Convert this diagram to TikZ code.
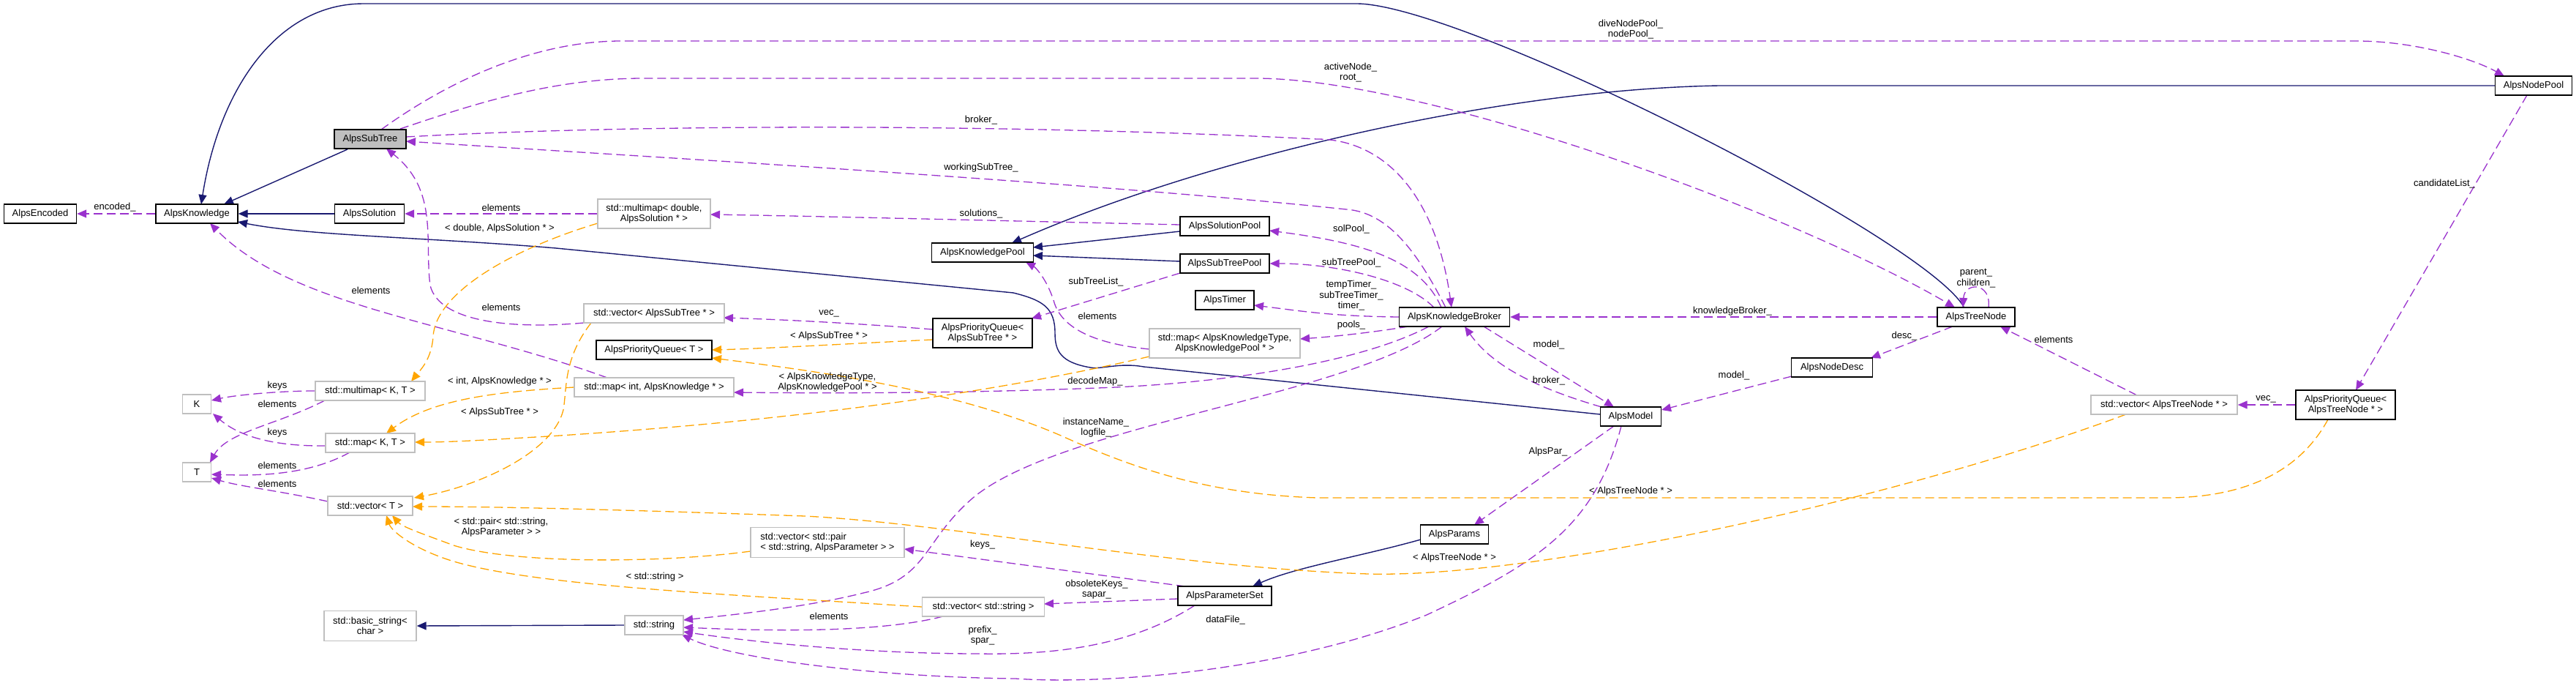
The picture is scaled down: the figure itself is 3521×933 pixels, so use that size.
\documentclass[tikz,border=0pt]{standalone}
\usepackage{fontspec}
\setmainfont{Liberation Sans}
\usetikzlibrary{arrows.meta,calc}
\definecolor{edgeP}{HTML}{9A32CD}
\definecolor{edgeO}{HTML}{FFA500}
\definecolor{edgeB}{HTML}{191970}
\definecolor{boxG}{HTML}{BFBFBF}
\newcommand{\dgfont}{\fontsize{13}{14.5}\selectfont}
\pgfdeclarelayer{bg}
\pgfsetlayers{bg,main}
\tikzset{
  cls/.style={draw=black, fill=white, line width=1.4pt, inner sep=1pt, font=\dgfont, align=center},
  ext/.style={cls, draw=boxG},
  lbl/.style={font=\dgfont, inner sep=0pt, align=center},
  inh/.style={draw=edgeB, line width=1.4pt, -{Triangle[length=13pt,width=11pt]}},
  use/.style={draw=edgeP, line width=1.3pt, dash pattern=on 12pt off 6pt, -{Triangle[length=13pt,width=11pt]}},
  tpl/.style={use, draw=edgeO},
}
\begin{document}
\begin{tikzpicture}[x=1pt,y=-1pt]
\useasboundingbox (0,0) rectangle (3521,933);
% ---------- nodes ----------
\node[cls, minimum width=99pt, minimum height=26pt] (enc) at (55,292) {AlpsEncoded};
\node[cls, minimum width=112pt, minimum height=26pt] (know) at (269,292) {AlpsKnowledge};
\node[cls, fill=boxG, minimum width=98pt, minimum height=26pt] (sub) at (506,190) {AlpsSubTree};
\node[cls, minimum width=95pt, minimum height=26pt] (sol) at (505,292) {AlpsSolution};
\node[ext, minimum width=154pt, minimum height=40pt] (mmds) at (894,292) {std::multimap< double,\\AlpsSolution * >};
\node[ext, minimum width=192pt, minimum height=26pt] (vst) at (894,428) {std::vector< AlpsSubTree * >};
\node[cls, minimum width=158pt, minimum height=26pt] (pqt) at (894,478) {AlpsPriorityQueue< T >};
\node[ext, minimum width=150pt, minimum height=26pt] (mmkt) at (506,534) {std::multimap< K, T >};
\node[ext, minimum width=218pt, minimum height=26pt] (mik) at (894,529) {std::map< int, AlpsKnowledge * >};
\node[ext, minimum width=39pt, minimum height=26pt] (K) at (269,552) {K};
\node[ext, minimum width=122pt, minimum height=26pt] (mkt) at (506,605) {std::map< K, T >};
\node[ext, minimum width=39pt, minimum height=26pt] (T) at (269,645) {T};
\node[ext, minimum width=116pt, minimum height=26pt] (vt) at (506,691) {std::vector< T >};
\node[ext, align=left, minimum width=210pt, minimum height=41pt] (vpair) at (1131,741) {std::vector< std::pair\\< std::string, AlpsParameter > >};
\node[ext, minimum width=126pt, minimum height=41pt] (bstr) at (506,855) {std::basic\_string<\\char >};
\node[ext, minimum width=80pt, minimum height=26pt] (str) at (894,854) {std::string};
\node[ext, minimum width=167pt, minimum height=26pt] (vstr) at (1344,829) {std::vector< std::string >};
\node[cls, minimum width=128pt, minimum height=26pt] (pset) at (1674,814) {AlpsParameterSet};
\node[cls, minimum width=139pt, minimum height=26pt] (kpool) at (1343,345) {AlpsKnowledgePool};
\node[cls, minimum width=136pt, minimum height=40pt] (pqst) at (1343,455) {AlpsPriorityQueue<\\AlpsSubTree * >};
\node[cls, minimum width=122pt, minimum height=26pt] (solpool) at (1674,309) {AlpsSolutionPool};
\node[cls, minimum width=122pt, minimum height=26pt] (stpool) at (1674,360) {AlpsSubTreePool};
\node[cls, minimum width=80pt, minimum height=26pt] (timer) at (1674,410) {AlpsTimer};
\node[cls, minimum width=151pt, minimum height=26pt] (broker) at (1988,433) {AlpsKnowledgeBroker};
\node[ext, minimum width=206pt, minimum height=40pt] (mkp) at (1674,469) {std::map< AlpsKnowledgeType,\\AlpsKnowledgePool * >};
\node[cls, minimum width=83pt, minimum height=26pt] (model) at (2229,569) {AlpsModel};
\node[cls, minimum width=93pt, minimum height=26pt] (params) at (1988,730) {AlpsParams};
\node[cls, minimum width=105pt, minimum height=26pt] (npool) at (3463,117) {AlpsNodePool};
\node[cls, minimum width=106pt, minimum height=26pt] (tnode) at (2701,433) {AlpsTreeNode};
\node[cls, minimum width=111pt, minimum height=26pt] (ndesc) at (2504,502) {AlpsNodeDesc};
\node[ext, minimum width=200pt, minimum height=26pt] (vtn) at (2958,553) {std::vector< AlpsTreeNode * >};
\node[cls, minimum width=136pt, minimum height=40pt] (pqtn) at (3206,553) {AlpsPriorityQueue<\\AlpsTreeNode * >};

\begin{pgfonlayer}{bg}
% ---------- inheritance ----------
\draw[inh] ($(sub)+(-31,14)$) -- ($(know)+(37,-13)$);
\draw[inh] (sol.west) -- (know.east);
\draw[inh] ($(tnode)+(-16,-12)$) .. controls (2640,330) and (2000,5) .. (1854,5) -- (497,5) .. controls (380,5) and (300,120) .. ($(know)+(6,-13)$);
\draw[inh] ($(solpool)+(-61,7)$) -- ($(kpool)+(69,-7)$);
\draw[inh] ($(stpool)+(-61,-3)$) -- ($(kpool)+(69,4)$);
\draw[inh] (npool.west) -- (2350,117) .. controls (2050,122) and (1650,215) .. ($(kpool)+(40,-13)$);
\draw[inh] ($(model)+(-42,-3)$) -- (1563,501) .. controls (1530,495) and (1505,505) .. (1490,502) .. controls (1450,495) and (1442,480) .. (1442,455) .. controls (1442,420) and (1425,410) .. (1385,400) -- (760,339) .. controls (580,324) and (420,322) .. ($(know)+(56,11)$);
\draw[inh] ($(params)+(-46,7)$) .. controls (1860,760) and (1770,775) .. ($(pset)+(38,-13)$);
\draw[inh] (str.west) -- (bstr.east);
% ---------- usage ----------
\draw[use] (know.west) -- (enc.east);
\draw[use] (mmds.west) -- (sol.east);
\draw[use] ($(solpool)+(-61,-2)$) .. controls (1300,300) and (1100,295) .. ($(mmds)+(77,1)$);
\draw[use] ($(sub)+(49,-3)$) .. controls (900,168) and (1400,170) .. (1800,190) .. controls (1880,190) and (1960,250) .. ($(broker)+(-4,-13)$);
\draw[use] ($(broker)+(-12,-13)$) .. controls (1940,350) and (1900,290) .. (1840,286) .. controls (1500,250) and (900,215) .. ($(sub)+(49,3)$);
\draw[use] ($(sub)+(15,-13)$) .. controls (600,120) and (720,56) .. (850,56) -- (3220,56) .. controls (3300,56) and (3380,80) .. ($(npool)+(-40,-13)$);
\draw[use] ($(sub)+(41,-14)$) .. controls (640,145) and (750,107) .. (880,107) -- (1716,107) .. controls (1950,107) and (2450,290) .. ($(tnode)+(-29,-13)$);
\draw[use] ($(broker)+(-18,-13)$) .. controls (1940,350) and (1850,330) .. ($(solpool)+(61,6)$);
\draw[use] ($(broker)+(-28,-13)$) .. controls (1920,380) and (1820,360) .. (stpool.east);
\draw[use] (broker.west) .. controls (1820,432) and (1780,425) .. ($(timer)+(40,7)$);
\draw[use] ($(broker)+(-63,13)$) .. controls (1870,455) and (1820,460) .. ($(mkp)+(103,-6)$);
\draw[use] ($(broker)+(-35,13)$) .. controls (1850,500) and (1650,525) .. (1500,530) .. controls (1300,538) and (1100,537) .. ($(mik)+(109,7)$);
\draw[use] ($(broker)+(-17,13)$) .. controls (1850,540) and (1450,580) .. (1330,680) .. controls (1260,740) and (1270,790) .. (1180,810) .. controls (1100,830) and (1000,840) .. ($(str)+(40,-7)$);
\draw[use] ($(stpool)+(-61,13)$) -- ($(pqst)+(67,-20)$);
\draw[use] ($(pqst)+(-68,-5)$) .. controls (1150,440) and (1050,436) .. ($(vst)+(95,6)$);
\draw[use] ($(mkp)+(-103,8)$) .. controls (1500,470) and (1450,450) .. (1440,410) .. controls (1430,380) and (1415,365) .. ($(kpool)+(59,13)$);
\draw[use] ($(mik)+(-64,-13)$) .. controls (620,440) and (400,420) .. ($(know)+(18,13)$);
\draw[use] ($(vst)+(-96,13)$) .. controls (700,450) and (600,440) .. (588,390) .. controls (580,330) and (600,260) .. ($(sub)+(22,13)$);
\draw[use] (mmkt.west) .. controls (380,534) and (320,540) .. ($(K)+(20,-5)$);
\draw[use] ($(mmkt)+(-62,13)$) .. controls (380,580) and (310,590) .. ($(T)+(18,-13)$);
\draw[use] ($(mkt)+(-61,4)$) .. controls (360,610) and (320,590) .. ($(K)+(22,13)$);
\draw[use] ($(mkt)+(-28,13)$) .. controls (420,650) and (350,650) .. ($(T)+(20,3)$);
\draw[use] ($(vt)+(-58,-6)$) .. controls (380,670) and (330,665) .. ($(T)+(20,8)$);
\draw[use] ($(pset)+(-54,-13)$) -- ($(vpair)+(105,9)$);
\draw[use] ($(pset)+(-64,4)$) -- ($(vstr)+(83,-4)$);
\draw[use] ($(vstr)+(-55,13)$) .. controls (1200,865) and (1050,862) .. ($(str)+(40,3)$);
\draw[use] ($(pset)+(-41,13)$) .. controls (1550,880) and (1450,895) .. (1337,893) .. controls (1200,893) and (1050,880) .. ($(str)+(40,9)$);
\draw[use] ($(model)+(-13,13)$) .. controls (2180,720) and (2100,770) .. (1950,840) .. controls (1750,920) and (1500,935) .. (1388,927) .. controls (1200,925) and (1000,900) .. ($(str)+(38,13)$);
\draw[use] ($(model)+(-23,13)$) -- ($(params)+(27,-13)$);
\draw[use] ($(broker)+(40,13)$) -- ($(model)+(-23,-13)$);
\draw[use] ($(model)+(-40,-13)$) .. controls (2100,530) and (2040,500) .. ($(broker)+(14,13)$);
\draw[use] ($(ndesc)+(-55,12)$) -- ($(model)+(42,-9)$);
\draw[use] ($(tnode)+(-32,13)$) -- ($(ndesc)+(53,-13)$);
\draw[use] (tnode.west) -- (broker.east);
\draw[use] ($(tnode)+(17,-13)$) .. controls (2722,385) and (2685,385) .. ($(tnode)+(-18,-13)$);
\draw[use] ($(vtn)+(-37,-13)$) -- ($(tnode)+(33,13)$);
\draw[use] (pqtn.west) -- (vtn.east);
\draw[use] ($(npool)+(-9,13)$) -- ($(pqtn)+(14,-20)$);
% ---------- template instances ----------
\draw[tpl] ($(mmds)+(-77,13)$) .. controls (700,340) and (595,400) .. (592,460) .. controls (590,490) and (575,505) .. ($(mmkt)+(56,-13)$);
\draw[tpl] ($(vst)+(-86,13)$) .. controls (770,490) and (775,530) .. (770,560) .. controls (755,620) and (650,665) .. ($(vt)+(60,-11)$);
\draw[tpl] ($(pqst)+(-68,9)$) .. controls (1150,470) and (1050,476) .. ($(pqt)+(79,0)$);
\draw[tpl] ($(mkp)+(-103,18)$) .. controls (1300,550) and (1000,580) .. (750,596) .. controls (680,600) and (620,604) .. ($(mkt)+(61,-1)$);
\draw[tpl] ($(mik)+(-109,0)$) .. controls (680,535) and (590,545) .. ($(mkt)+(22,-13)$);
\draw[tpl] ($(pqtn)+(-24,20)$) .. controls (3140,650) and (3060,680) .. (2960,680) -- (1800,680) .. controls (1650,675) and (1550,640) .. (1450,595) .. controls (1300,530) and (1100,505) .. ($(pqt)+(79,11)$);
\draw[tpl] ($(vtn)+(-52,13)$) .. controls (2600,680) and (2100,790) .. (1870,784) .. controls (1600,775) and (1300,715) .. (1100,705) .. controls (900,698) and (700,692) .. ($(vt)+(58,1)$);
\draw[tpl] ($(vpair)+(-105,12)$) .. controls (900,770) and (700,770) .. (620,745) .. controls (580,730) and (550,720) .. ($(vt)+(30,13)$);
\draw[tpl] (vstr.west) .. controls (1000,812) and (700,800) .. (600,760) .. controls (560,745) and (535,725) .. ($(vt)+(22,13)$);
\end{pgfonlayer}

% ---------- labels ----------
\node[lbl] (l1) at (157,283) {encoded\_};
\node[lbl] (l2) at (685,284) {elements};
\node[lbl] (l3) at (1341,292) {solutions\_};
\node[lbl] (l4) at (1341,164) {broker\_};
\node[lbl] (l5) at (1341,229) {workingSubTree\_};
\node[lbl] (l6) at (2229,40) {diveNodePool\_\\nodePool\_};
\node[lbl] (l7) at (1846,99) {activeNode\_\\root\_};
\node[lbl] (l8) at (1847,313) {solPool\_};
\node[lbl] (l9) at (1847,359) {subTreePool\_};
\node[lbl] (l10) at (1847,404) {tempTimer\_\\subTreeTimer\_\\timer\_};
\node[lbl] (l11) at (1847,444) {pools\_};
\node[lbl] (l12) at (1497,521) {decodeMap\_};
\node[lbl] (l13) at (1498,584) {instanceName\_\\logfile\_};
\node[lbl] (l14) at (1498,385) {subTreeList\_};
\node[lbl] (l15) at (1133,428) {vec\_};
\node[lbl] (l16) at (1500,432) {elements};
\node[lbl] (l17) at (507,397) {elements};
\node[lbl] (l18) at (685,420) {elements};
\node[lbl] (l19) at (379,527) {keys};
\node[lbl] (l20) at (379,552) {elements};
\node[lbl] (l21) at (379,591) {keys};
\node[lbl] (l22) at (379,636) {elements};
\node[lbl] (l23) at (379,661) {elements};
\node[lbl] (l24) at (1343,744) {keys\_};
\node[lbl] (l25) at (1499,805) {obsoleteKeys\_\\sapar\_};
\node[lbl] (l26) at (1133,842) {elements};
\node[lbl] (l27) at (1343,868) {prefix\_\\spar\_};
\node[lbl] (l28) at (1675,847) {dataFile\_};
\node[lbl] (l29) at (2116,617) {AlpsPar\_};
\node[lbl] (l30) at (2117,471) {model\_};
\node[lbl] (l31) at (2117,520) {broker\_};
\node[lbl] (l32) at (2370,513) {model\_};
\node[lbl] (l33) at (2603,459) {desc\_};
\node[lbl] (l34) at (2368,425) {knowledgeBroker\_};
\node[lbl] (l35) at (2701,380) {parent\_\\children\_};
\node[lbl] (l36) at (2807,464) {elements};
\node[lbl] (l37) at (3097,545) {vec\_};
\node[lbl] (l38) at (3341,251) {candidateList\_};
\node[lbl] (t1) at (683,312) {< double, AlpsSolution * >};
\node[lbl] (t2) at (683,563) {< AlpsSubTree * >};
\node[lbl] (t3) at (1133,459) {< AlpsSubTree * >};
\node[lbl] (t4) at (1131,522) {< AlpsKnowledgeType,\\AlpsKnowledgePool * >};
\node[lbl] (t5) at (683,521) {< int, AlpsKnowledge * >};
\node[lbl] (t6) at (2229,671) {< AlpsTreeNode * >};
\node[lbl] (t7) at (1988,762) {< AlpsTreeNode * >};
\node[lbl] (t8) at (685,720) {< std::pair< std::string,\\AlpsParameter > >};
\node[lbl] (t9) at (895,788) {< std::string >};
\end{tikzpicture}
\end{document}
